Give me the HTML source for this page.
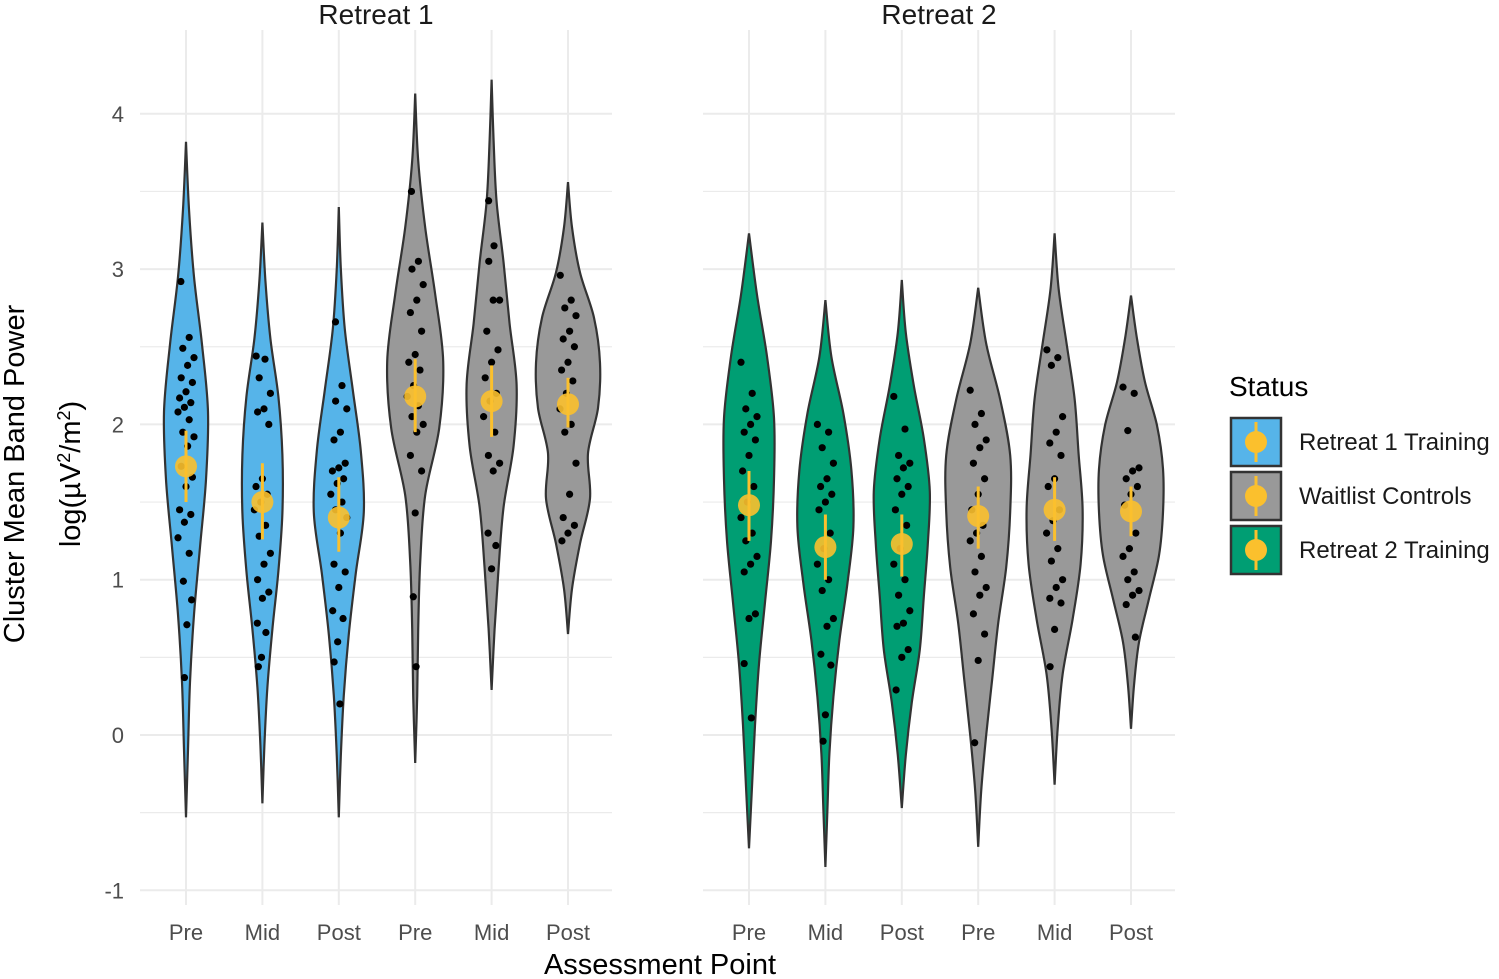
<!DOCTYPE html>
<html><head><meta charset="utf-8"><style>
body{margin:0;background:#fff;}
svg{display:block;font-family:"Liberation Sans",sans-serif;}
</style></head><body>
<svg id="chart" width="1499" height="979" viewBox="0 0 1499 979">
<g id="grid"></g>
<g id="marks"></g>
<g id="labels"></g>
</svg>
<script>
const categories = ["Pre","Mid","Post","Pre","Mid","Post"];
const panels = ["Retreat 1","Retreat 2"];
const groups = ["Retreat 1 Training","Retreat 1 Training","Retreat 1 Training","Waitlist Controls","Waitlist Controls","Waitlist Controls","Retreat 2 Training","Retreat 2 Training","Retreat 2 Training","Waitlist Controls","Waitlist Controls","Waitlist Controls"];
const yTicks = [-1,0,1,2,3,4];
const ranges = [[-0.53,3.82],[-0.44,3.3],[-0.53,3.4],[-0.18,4.13],[0.29,4.22],[0.65,3.56],[-0.73,3.23],[-0.85,2.8],[-0.47,2.93],[-0.72,2.88],[-0.32,3.23],[0.04,2.83]];
const densities = [
[0,2,4,8,14,20,22,16,8,3,0],
[0,2,5,10,16,20,20,16,8,3,0],
[0,2,5,10,17,25,22,14,6,2,0],
[0,2,3,5,10,24,28,20,10,3,0],
[0,3,7,12,22,25,18,12,5,2,0],
[0,4,12,22,20,30,32,26,12,4,0],
[0,3,6,10,16,22,25,25,18,8,0],
[0,2,4,8,14,22,28,26,18,6,0],
[0,4,10,18,22,26,28,22,12,4,0],
[0,3,8,14,20,28,32,32,22,8,0],
[0,3,8,18,26,28,24,20,12,4,0],
[0,3,8,18,28,32,32,26,14,6,0]];
const points = [
[2.92,2.56,2.49,2.43,2.38,2.30,2.27,2.21,2.17,2.14,2.11,2.08,2.03,1.95,1.92,1.86,1.73,1.66,1.60,1.45,1.42,1.37,1.27,1.17,0.99,0.87,0.71,0.37],
[2.44,2.42,2.3,2.2,2.1,2.08,2.0,1.65,1.6,1.55,1.5,1.45,1.35,1.28,1.17,1.1,1.0,0.92,0.88,0.72,0.66,0.5,0.44],
[2.66,2.25,2.15,2.1,1.95,1.9,1.75,1.72,1.7,1.65,1.62,1.55,1.5,1.45,1.4,1.3,1.1,1.05,0.95,0.8,0.75,0.6,0.47,0.2],
[3.5,3.05,3.0,2.9,2.8,2.72,2.6,2.45,2.4,2.35,2.25,2.18,2.12,2.05,2.0,1.95,1.8,1.7,1.43,0.89,0.44],
[3.44,3.15,3.05,2.8,2.8,2.6,2.48,2.4,2.3,2.2,2.15,2.05,1.95,1.8,1.75,1.7,1.3,1.22,1.07],
[2.96,2.8,2.75,2.7,2.6,2.55,2.5,2.4,2.35,2.28,2.2,2.1,2.0,1.95,1.75,1.55,1.4,1.35,1.3,1.25],
[2.4,2.2,2.1,2.05,2.0,1.95,1.9,1.8,1.7,1.6,1.5,1.4,1.3,1.25,1.15,1.1,1.05,0.78,0.75,0.46,0.11],
[2.0,1.95,1.85,1.75,1.65,1.6,1.55,1.5,1.45,1.3,1.2,1.1,1.0,0.93,0.75,0.7,0.52,0.45,0.13,-0.04],
[2.18,1.97,1.8,1.75,1.72,1.65,1.6,1.55,1.45,1.35,1.2,1.1,1.0,0.9,0.8,0.72,0.7,0.55,0.5,0.29],
[2.22,2.07,2.0,1.9,1.85,1.75,1.65,1.55,1.45,1.35,1.3,1.25,1.15,1.05,0.95,0.9,0.78,0.65,0.48,-0.05],
[2.48,2.43,2.38,2.05,1.95,1.88,1.8,1.65,1.6,1.45,1.38,1.3,1.2,1.12,1.0,0.95,0.88,0.85,0.68,0.44],
[2.24,2.2,1.96,1.72,1.7,1.65,1.6,1.55,1.48,1.3,1.2,1.15,1.05,1.0,0.93,0.9,0.84,0.63]];
const means = [1.73,1.5,1.4,2.18,2.15,2.13,1.48,1.21,1.23,1.41,1.45,1.44];
const errLo = [1.5,1.26,1.18,1.95,1.92,1.98,1.25,1.0,1.02,1.2,1.25,1.28];
const errHi = [1.96,1.75,1.66,2.42,2.38,2.3,1.7,1.42,1.42,1.6,1.66,1.6];

const colors = {"Retreat 1 Training":"#56B4E9","Waitlist Controls":"#999999","Retreat 2 Training":"#009E73"};
const NS="http://www.w3.org/2000/svg";
const panelX=[[140,612],[703,1175]];
function y(v){return 735-155.3*v;}
function x(i){const p=Math.floor(i/6), k=i%6; return panelX[p][0]+46+k*76.4;}
function mk(tag,attrs,parent,text){const e=document.createElementNS(NS,tag);for(const a in attrs)e.setAttribute(a,attrs[a]);if(text!==undefined)e.textContent=text;parent.appendChild(e);return e;}
const grid=document.getElementById('grid'),marks=document.getElementById('marks'),labels=document.getElementById('labels');

panelX.forEach((p,pi)=>{
  for(let v=-1;v<=4;v+=0.5){
    const l=mk('line',{x1:p[0],x2:p[1],y1:y(v),y2:y(v),stroke:'#ebebeb','stroke-width':Number.isInteger(v)?2:1.2},grid);
    
    
  }
  for(let k=0;k<6;k++){
    const l=mk('line',{x1:x(pi*6+k),x2:x(pi*6+k),y1:30,y2:905,stroke:'#ebebeb','stroke-width':2},grid);
    
    
    const t=mk('text',{x:x(pi*6+k),y:940,'text-anchor':'middle','font-size':22,fill:'#4d4d4d'},labels,categories[k]);
    
    
  }
  const st=mk('text',{x:(p[0]+p[1])/2,y:24,'text-anchor':'middle','font-size':28,fill:'#1a1a1a'},labels,panels[pi]);
  
  
});
yTicks.forEach(v=>{
  const t=mk('text',{x:124,y:y(v)+8,'text-anchor':'end','font-size':22,fill:'#4d4d4d'},labels,String(v));
  
  
});

function spline(pts){
  let d='';
  for(let i=0;i<pts.length-1;i++){
    const p0=pts[Math.max(i-1,0)],p1=pts[i],p2=pts[i+1],p3=pts[Math.min(i+2,pts.length-1)];
    const c1=[p1[0]+(p2[0]-p0[0])/6,p1[1]+(p2[1]-p0[1])/6];
    const c2=[p2[0]-(p3[0]-p1[0])/6,p2[1]-(p3[1]-p1[1])/6];
    d+=` C${c1[0]},${c1[1]} ${c2[0]},${c2[1]} ${p2[0]},${p2[1]}`;
  }
  return d;
}
for(let i=0;i<12;i++){
  const cx=x(i),[lo,hi]=ranges[i],dens=densities[i],n=dens.length;
  const right=dens.map((w,j)=>[cx+w,y(lo+(hi-lo)*j/(n-1))]);
  const left=dens.map((w,j)=>[cx-w,y(lo+(hi-lo)*j/(n-1))]).reverse();
  const d='M'+right[0][0]+','+right[0][1]+spline(right)+spline(left)+'Z';
  const v=mk('path',{d:d,fill:colors[groups[i]],stroke:'#333','stroke-width':2.2},marks);
  
  
  points[i].forEach((val,j)=>{
    const frac=(j*7%11-5)/5;
    const rel=(val-lo)/(hi-lo)*(n-1);const a=Math.floor(rel),b=Math.min(a+1,n-1);
    const w=dens[a]+(dens[b]-dens[a])*(rel-a);
    const c=mk('circle',{cx:cx+frac*Math.min(8,w*0.6),cy:y(val),r:3.6,fill:'#000'},marks);
    
    
  });
  const e=mk('line',{x1:cx,x2:cx,y1:y(errLo[i]),y2:y(errHi[i]),stroke:'#FBC02D','stroke-width':3},marks);
  
  
  const m=mk('circle',{cx:cx,cy:y(means[i]),r:11,fill:'#FBC02D','fill-opacity':0.9},marks);
  
  
}
let t=mk('text',{x:660,y:974,'text-anchor':'middle','font-size':29,fill:'#000'},labels,'Assessment Point');

t=mk('text',{transform:'translate(24,474) rotate(-90)','text-anchor':'middle','font-size':29,fill:'#000'},labels,'Cluster Mean Band Power');

t=mk('text',{transform:'translate(80,474) rotate(-90)','text-anchor':'middle','font-size':29,fill:'#000'},labels);

t.innerHTML='log(µV<tspan dy="-10" font-size="18">2</tspan><tspan dy="10">/m</tspan><tspan dy="-10" font-size="18">2</tspan><tspan dy="10">)</tspan>';
const leg=mk('g',{},labels);

t=mk('text',{x:1229,y:396,'font-size':28,fill:'#000'},leg,'Status');

const legNames=["Retreat 1 Training","Waitlist Controls","Retreat 2 Training"];
legNames.forEach((nm,k)=>{
  const ty=418+k*54;
  const r=mk('rect',{x:1231,y:ty,width:50,height:48,fill:colors[nm],stroke:'#333','stroke-width':2.5},leg);
  
  mk('line',{x1:1256,x2:1256,y1:ty+4,y2:ty+44,stroke:'#FBC02D','stroke-width':3},leg);
  mk('circle',{cx:1256,cy:ty+24,r:11,fill:'#FBC02D'},leg);
  const lt=mk('text',{x:1299,y:ty+32,'font-size':24,fill:'#1a1a1a'},leg,nm);
  
});
</script>
</body></html>
